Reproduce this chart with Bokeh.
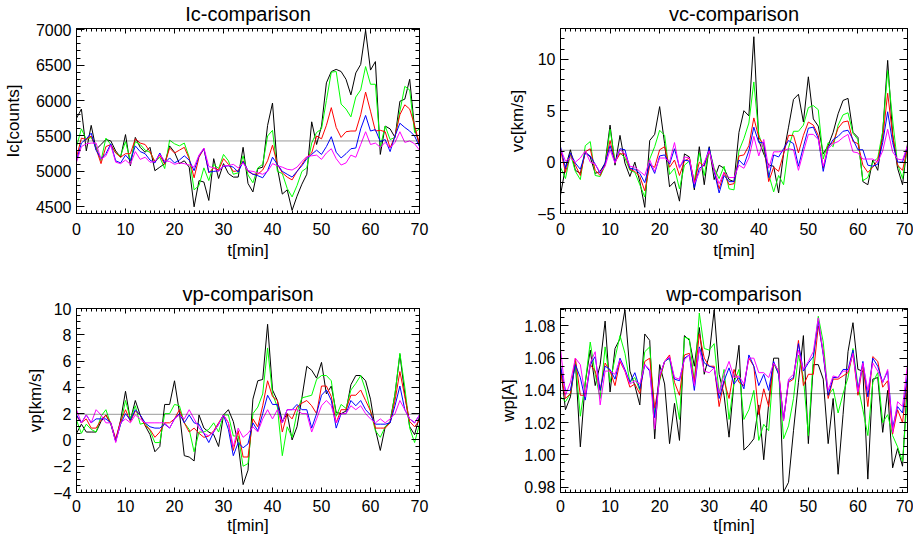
from bokeh.plotting import figure
from bokeh.layouts import gridplot
from bokeh.models import (LinearAxis, SingleIntervalTicker, Span, Range1d,
                          NumeralTickFormatter, CustomLabelingPolicy)
from bokeh.embed import file_html
from bokeh.resources import INLINE

t_min = list(range(0, 71))

# ---------------- Ic [counts] ----------------
ic_black = [5750, 5880, 5290, 5650, 5310, 5380, 5450, 5430, 5290, 5200,
            5520, 5080, 5480, 5340, 5270, 5340, 5010, 5060, 5110, 5360,
            5270, 5110, 5150, 5060, 4500, 4870, 4850, 4590, 5180, 4900,
            5110, 4970, 4920, 4920, 5340, 4830, 4710, 5040, 5060, 5650,
            5965, 5050, 4680, 4740, 4450, 4650, 4820, 4960, 5700, 5380,
            5640, 6250, 6410, 6440, 6410, 6300, 6080, 6390, 6510, 6990,
            6430, 6550, 5240, 5640, 5600, 5480, 5990, 6020, 6300, 5600, 5380]
ic_green = [5350, 5600, 5450, 5480, 5350, 5150, 5470, 5380, 5260, 5220,
            5420, 5150, 5420, 5380, 5300, 5270, 5140, 5200, 5040, 5440,
            5390, 5360, 5400, 5200, 4740, 4800, 5050, 4870, 5100, 5040,
            5240, 5150, 4960, 4980, 5220, 4950, 4840, 5050, 5100, 5500,
            5580, 5000, 4970, 4760, 4640, 4800, 5000, 5050, 5400, 5550,
            5600, 6000, 6400, 6410, 5950, 5880, 5770, 6050, 6150, 6480,
            6230, 6230, 5350, 5640, 5450, 5480, 5850, 6200, 6150, 5550, 5600]
ic_red = [5200, 5470, 5450, 5500, 5320, 5110, 5350, 5380, 5260, 5200,
          5250, 5250, 5460, 5400, 5380, 5280, 5130, 5230, 5100, 5330,
          5260, 5300, 5340, 5180, 4910, 5200, 5320, 4980, 5050, 5020,
          5180, 5100, 5000, 5010, 5150, 5000, 4960, 4960, 5020, 5150,
          5370, 5100, 4980, 4920, 4880, 5000, 5100, 5200, 5260, 5500,
          5460, 5650, 5900, 5620, 5480, 5560, 5570, 5570, 5800, 6120,
          5850, 5570, 5580, 5560, 5330, 5500, 5800, 5940, 5880, 5650, 5380]
ic_blue = [5150, 5400, 5460, 5540, 5300, 5180, 5250, 5390, 5150, 5120,
           5230, 5150, 5360, 5280, 5250, 5160, 5120, 5260, 5120, 5190,
           5120, 5160, 5220, 5160, 5010, 5220, 5320, 4990, 5000, 5010,
           5070, 5080, 5060, 4990, 5140, 5010, 4960, 4940, 4910, 5010,
           5200, 5100, 5000, 4960, 4920, 5000, 5080, 5180, 5240, 5300,
           5240, 5350, 5490, 5270, 5190, 5250, 5320, 5330, 5600, 5790,
           5570, 5590, 5420, 5450, 5280, 5500, 5680, 5620, 5570, 5500, 5350]
ic_magenta = [5130, 5350, 5390, 5400, 5400, 5170, 5220, 5370, 5130, 5110,
              5160, 5100, 5280, 5170, 5200, 5130, 5140, 5240, 5150, 5140,
              5100, 5120, 5110, 5090, 5060, 5230, 5330, 5070, 5050, 5000,
              5080, 5080, 5100, 5050, 5120, 5010, 5000, 4980, 4960, 5000,
              5110, 5080, 5060, 5030, 5020, 5060, 5140, 5210, 5220, 5230,
              5170, 5260, 5320, 5180, 5090, 5120, 5230, 5200, 5380, 5560,
              5380, 5400, 5340, 5410, 5330, 5410, 5560, 5410, 5430, 5390, 5300]
ic_ref = 5430

# ---------------- vc [km/s] ----------------
vc_black = [-3.2, -0.5, 1.2, -0.8, -1.1, 1.0, 0.5, -1.1, -0.9, -0.1,
            3.6, -0.3, 2.6, -0.1, -1.4, 0.0, -1.9, -4.4, 2.1, 2.7,
            5.4, 1.8, -2.4, -1.9, -3.8, 0.8, 0.5, -2.7, 1.5, -2.2,
            1.5, -1.7, -0.3, -0.6, -1.7, -1.9, 2.9, 5.0, 4.5, 12.2,
            2.1, 0.8, -0.3, -0.4, -3.0, 0.8, 3.4, 6.1, 6.6, 3.9,
            8.3, 4.2, 3.5, 0.8, 1.6, 2.9, 4.7, 6.0, 6.2, 2.9,
            2.4, -1.9, -2.2, 0.2, -0.8, 2.9, 9.9, 2.7, -0.6, -2.2, 1.8]
vc_green = [-0.5, -1.6, 0.8, -0.9, -1.7, 1.6, 2.0, -1.3, -1.4, -0.3,
            3.2, 0.1, 0.9, 0.4, -0.8, -1.0, -2.2, -3.4, 0.3, 1.5,
            3.1, 2.6, -1.2, -0.6, -2.6, -0.3, 0.1, -1.8, 0.9, -1.3,
            1.3, -0.6, -1.6, -0.4, -2.6, -2.7, 1.1, 2.3, 3.8, 7.8,
            2.7, 1.2, -1.2, -2.9, -1.3, -2.2, 1.4, 3.0, 3.0, 3.6,
            5.3, 5.5, 5.1, 0.3, 1.9, 1.5, 3.6, 4.6, 4.8, 2.8,
            2.2, -1.8, -1.5, 0.0, 0.4, 3.0, 8.9, 4.1, -0.2, -1.6, 1.6]
vc_red = [1.2, -1.0, 0.8, -0.3, -1.3, 1.0, 1.3, -0.8, -1.3, -0.2,
          2.1, 0.0, 0.8, 0.8, -0.7, -0.9, -1.4, -2.8, -0.3, -0.5,
          1.2, 1.5, -0.5, 0.2, -1.3, 0.1, 0.4, -2.0, 0.0, -0.4,
          1.2, -0.8, -2.6, -1.0, -2.2, -2.1, 0.6, 0.7, 1.6, 4.3,
          2.4, 1.7, -1.9, -0.5, -0.9, 0.8, 2.6, 2.6, 0.9, 2.6,
          3.9, 3.6, 2.6, -0.6, 1.6, 1.9, 3.3, 3.9, 4.0, 2.0,
          1.8, -0.3, -1.0, -0.5, 0.2, 2.3, 6.7, 2.6, -0.3, -0.8, 1.4]
vc_blue = [1.5, -0.6, 0.9, -0.1, -0.7, 0.9, 0.6, -0.2, -1.1, -0.1,
           1.6, 0.0, 1.3, 1.2, -0.6, -0.7, -1.1, -2.0, -0.1, -1.1,
           0.6, 0.7, -0.2, 1.3, -0.5, 0.2, 0.1, -2.5, -0.6, -0.3,
           1.4, -0.9, -3.0, -1.3, -1.9, -1.9, 0.2, -0.3, 1.1, 3.4,
           1.9, 1.9, -1.5, 0.7, 0.5, 1.3, 2.1, 1.8, -0.4, 1.5,
           3.3, 3.4, 2.3, -0.9, 1.4, 2.2, 2.5, 3.0, 3.1, 2.2,
           1.2, 1.2, -0.3, -0.4, -0.2, 1.9, 4.9, 1.9, 0.0, 0.0, 1.5]
vc_magenta = [1.3, 0.1, 0.4, 0.0, 0.4, 1.1, 0.0, -0.2, -1.0, -0.4,
              1.2, -0.1, 1.2, 0.8, -0.4, -0.5, -0.9, -1.3, 0.2, -0.9,
              0.4, 0.4, 0.0, 1.9, -0.6, 0.5, 0.4, -2.1, -1.0, 0.0,
              1.1, -0.8, -2.1, -1.0, -1.5, -1.5, -0.3, -0.6, 0.4, 2.5,
              0.6, 2.2, -0.6, 1.0, 1.0, 1.1, 1.3, 1.2, -0.8, 1.0,
              2.7, 2.7, 2.2, -0.4, 1.3, 1.8, 2.0, 2.4, 2.7, 1.0,
              0.9, 0.3, 0.3, 0.3, 0.0, 1.1, 3.2, 1.0, 0.3, 0.2, 1.6]
vc_ref = 1.15

# ---------------- vp [km/s] ----------------
vp_black = [0.5, 1.2, 0.6, 0.6, 0.6, 1.4, 1.9, 1.2, -0.1, 1.5,
            3.7, 1.5, 3.0, 1.9, 1.1, 0.4, -0.9, -0.5, 2.7, 2.7,
            4.5, 2.1, -1.2, -1.3, -1.6, 1.9, 0.9, 0.6, 0.4, -0.5,
            1.9, 2.3, 1.4, -0.3, -3.4, -2.3, 3.1, 4.5, 4.6, 8.8,
            3.8, 3.0, 1.4, 2.0, 0.0, 1.0, 3.2, 5.6, 5.3, 4.7,
            5.9, 3.5, 4.1, 2.1, 2.0, 2.2, 4.2, 4.9, 4.9, 4.5,
            3.1, 0.8, -0.8, 1.0, 1.4, 3.5, 6.5, 3.5, 1.0, 0.4, 1.8]
vp_green = [1.5, 0.5, 1.2, 0.8, 0.6, 1.8, 2.3, 1.2, 0.0, 1.2,
            3.0, 1.6, 2.6, 1.2, 1.3, 0.7, -0.2, -0.2, 2.0, 2.0,
            2.7, 2.6, 1.3, 0.8, -0.9, 0.6, 0.6, 0.8, 1.3, 0.6,
            1.9, 1.9, 0.3, 0.3, -2.0, -1.8, 2.0, 2.5, 3.5, 7.0,
            3.5, 2.5, -1.2, 1.0, 0.2, 2.1, 3.2, 3.3, 3.4, 4.6,
            4.9, 4.9, 4.5, 1.8, 2.7, 2.4, 3.8, 4.3, 4.9, 3.8,
            2.2, 0.7, 0.2, 1.0, 1.3, 3.5, 6.6, 4.0, 0.9, -0.2, 1.2]
vp_red = [1.8, 1.3, 1.6, 0.9, 0.9, 1.5, 1.9, 1.3, 0.1, 1.4,
          2.3, 1.4, 2.2, 1.9, 1.1, 0.8, 0.2, 0.6, 1.3, 1.3,
          1.6, 2.3, 1.3, 0.6, 0.9, 0.5, 0.2, 0.3, 0.7, 1.3,
          1.9, 1.3, -0.8, 0.7, -1.3, -1.3, 1.6, 1.0, 2.6, 4.5,
          3.3, 3.0, 0.6, 2.0, 1.6, 2.5, 2.8, 3.0, 2.6, 2.0,
          4.1, 4.1, 3.3, 1.3, 2.3, 2.3, 3.4, 3.4, 3.8, 3.0,
          2.2, 0.9, 0.9, 0.9, 1.3, 3.0, 5.2, 3.3, 1.4, 1.0, 1.5]
vp_blue = [1.9, 1.3, 1.9, 1.3, 1.6, 1.6, 1.6, 1.3, -0.1, 1.2,
           2.0, 1.5, 2.3, 1.9, 1.3, 1.0, 0.9, 0.9, 1.2, 0.9,
           1.6, 2.0, 1.3, 1.9, 1.3, 1.2, 0.5, -0.2, 0.6, 1.2,
           1.9, 0.8, -1.2, -0.2, -0.6, -0.3, 1.3, 0.7, 2.0, 3.4,
           2.7, 2.7, 1.3, 2.3, 2.3, 2.7, 2.3, 2.3, 0.9, 2.0,
           3.4, 3.8, 3.0, 0.9, 2.0, 2.0, 3.0, 2.6, 3.0, 2.3,
           1.9, 1.2, 1.2, 1.2, 1.3, 2.6, 4.1, 2.3, 1.6, 1.3, 1.9]
vp_magenta = [2.3, 1.3, 1.9, 1.3, 2.3, 1.9, 1.3, 1.3, -0.2, 1.3,
              1.6, 1.3, 1.9, 1.6, 1.3, 1.3, 1.3, 1.3, 1.3, 0.9,
              1.6, 1.9, 1.6, 2.3, 1.6, 0.9, 0.5, 0.3, 0.6, 1.2,
              1.9, 1.3, -0.5, 0.9, 0.2, 0.5, 1.0, 0.6, 1.6, 2.3,
              1.6, 2.3, 1.3, 2.3, 2.3, 2.3, 2.0, 2.0, 0.6, 1.6,
              2.6, 3.0, 2.6, 1.3, 2.0, 2.0, 2.6, 2.3, 2.6, 2.0,
              1.6, 1.3, 1.6, 1.3, 1.6, 2.0, 3.0, 2.3, 1.6, 1.3, 1.9]
vp_ref = 1.95

# ---------------- wp [A] ----------------
wp_black = [1.055, 1.028, 1.036, 1.058, 1.005, 1.045, 1.065, 1.043, 1.056, 1.083,
            1.039, 1.066, 1.072, 1.090, 1.052, 1.043, 1.031, 1.075, 1.071, 1.010,
            1.056, 1.044, 1.007, 1.032, 1.009, 1.074, 1.071, 1.055, 1.079, 1.050,
            1.062, 1.090, 1.050, 1.037, 1.011, 1.045, 1.068, 1.003, 1.006, 1.010,
            1.031, 0.997, 1.032, 1.060, 1.060, 0.977, 0.983, 1.015, 1.045, 1.074,
            1.007, 1.056, 1.056, 1.047, 1.007, 1.035, 0.988, 1.025, 1.064, 1.082,
            1.053, 1.052, 0.985, 1.047, 1.048, 1.014, 1.040, 0.992, 1.004, 0.993, 1.046]
wp_green = [1.036, 1.033, 1.038, 1.058, 1.024, 1.045, 1.070, 1.050, 1.035, 1.067,
            1.045, 1.060, 1.074, 1.063, 1.045, 1.048, 1.040, 1.064, 1.067, 1.025,
            1.046, 1.058, 1.060, 1.040, 1.022, 1.073, 1.072, 1.045, 1.088, 1.066,
            1.065, 1.069, 1.038, 1.053, 1.022, 1.045, 1.053, 1.022, 1.028, 1.040,
            1.009, 1.019, 1.015, 1.057, 1.050, 1.010, 1.018, 1.035, 1.062, 1.048,
            1.012, 1.060, 1.086, 1.070, 1.037, 1.041, 1.026, 1.038, 1.048, 1.066,
            1.043, 1.028, 1.012, 1.045, 1.051, 1.020, 1.025, 1.012, 1.005, 0.996, 1.038]
wp_red = [1.052, 1.035, 1.038, 1.060, 1.037, 1.037, 1.056, 1.052, 1.040, 1.057,
          1.052, 1.043, 1.058, 1.052, 1.042, 1.044, 1.038, 1.058, 1.060, 1.029,
          1.047, 1.058, 1.062, 1.045, 1.037, 1.062, 1.063, 1.045, 1.075, 1.060,
          1.055, 1.055, 1.030, 1.046, 1.035, 1.053, 1.045, 1.043, 1.060, 1.055,
          1.025, 1.041, 1.030, 1.057, 1.052, 1.022, 1.045, 1.047, 1.071, 1.043,
          1.050, 1.050, 1.080, 1.064, 1.035, 1.047, 1.047, 1.049, 1.051, 1.063,
          1.037, 1.056, 1.030, 1.061, 1.058, 1.042, 1.046, 1.013, 1.028, 1.020, 1.048]
wp_blue = [1.055, 1.040, 1.040, 1.056, 1.048, 1.034, 1.056, 1.061, 1.040, 1.055,
           1.053, 1.047, 1.060, 1.053, 1.045, 1.051, 1.041, 1.056, 1.052, 1.023,
           1.049, 1.058, 1.060, 1.047, 1.046, 1.060, 1.062, 1.040, 1.067, 1.057,
           1.055, 1.054, 1.035, 1.046, 1.054, 1.044, 1.048, 1.041, 1.062, 1.055,
           1.043, 1.050, 1.040, 1.058, 1.050, 1.022, 1.046, 1.048, 1.069, 1.052,
           1.057, 1.061, 1.083, 1.062, 1.037, 1.048, 1.048, 1.053, 1.053, 1.065,
           1.040, 1.058, 1.036, 1.060, 1.055, 1.045, 1.052, 1.017, 1.030, 1.026, 1.050]
wp_magenta = [1.066, 1.037, 1.045, 1.060, 1.056, 1.036, 1.057, 1.064, 1.031, 1.052,
              1.052, 1.050, 1.059, 1.052, 1.044, 1.046, 1.044, 1.056, 1.053, 1.016,
              1.049, 1.058, 1.061, 1.048, 1.047, 1.059, 1.062, 1.043, 1.066, 1.052,
              1.051, 1.054, 1.038, 1.050, 1.058, 1.048, 1.049, 1.044, 1.060, 1.060,
              1.051, 1.051, 1.048, 1.057, 1.052, 1.021, 1.047, 1.050, 1.065, 1.053,
              1.058, 1.064, 1.085, 1.063, 1.040, 1.049, 1.048, 1.052, 1.052, 1.063,
              1.039, 1.057, 1.040, 1.057, 1.052, 1.045, 1.053, 1.014, 1.033, 1.030, 1.056]
wp_ref = 1.038

colors = ["black", "#00ff00", "#ff0000", "#0000ff", "#ff00ff"]
FONT = "Liberation Sans"

HIDE_JS = """
try {
  const on = [...indices.ones()];
  for (const i of on) { indices.unset(i); }
} catch (e) {}
return indices;
"""


def style_axis(ax, tick_in, minor_in, hide_labels=False):
    ax.axis_line_color = "black"
    ax.major_tick_line_color = "black"
    ax.minor_tick_line_color = "black"
    ax.major_tick_in = tick_in
    ax.major_tick_out = 0
    ax.minor_tick_in = minor_in
    ax.minor_tick_out = 0
    ax.major_label_text_font = FONT
    ax.major_label_text_color = "black"
    ax.major_label_text_font_size = "16px"
    ax.axis_label_text_font = FONT
    ax.axis_label_text_font_size = "17px"
    ax.axis_label_text_font_style = "normal"
    ax.axis_label_text_color = "black"
    if hide_labels:
        ax.major_label_policy = CustomLabelingPolicy(code=HIDE_JS)
        ax.major_label_text_font_size = "1px"
        ax.major_label_standoff = 0


def panel(title, ylabel, series, ref, yr, yint, yminor, yfmt,
          width, height, bl, br, bt, bb, ylab_standoff, xl_so, xa_so):
    p = figure(width=width, height=height, output_backend="svg",
               toolbar_location=None, x_range=Range1d(0, 70),
               y_range=Range1d(*yr), min_border_left=bl, min_border_right=br,
               min_border_top=bt, min_border_bottom=bb)
    p.title.text = title
    p.title.text_font = FONT
    p.title.text_font_size = "20px"
    p.title.text_font_style = "normal"
    p.title.text_color = "black"
    p.title.align = "center"
    p.title.standoff = 0
    p.xgrid.visible = False
    p.ygrid.visible = False
    p.outline_line_color = "black"
    p.outline_line_alpha = 1.0
    p.background_fill_color = "white"
    p.border_fill_color = "white"

    p.xaxis.ticker = SingleIntervalTicker(interval=10, num_minor_ticks=10)
    p.yaxis.ticker = SingleIntervalTicker(interval=yint, num_minor_ticks=yminor)
    p.xaxis.axis_label = "t[min]"
    p.yaxis.axis_label = ylabel
    style_axis(p.xaxis[0], 5, 3)
    style_axis(p.yaxis[0], 8, 4)
    p.xaxis.major_label_standoff = xl_so
    p.xaxis.axis_label_standoff = xa_so
    p.yaxis.major_label_standoff = 5
    p.yaxis.axis_label_standoff = ylab_standoff
    if yfmt:
        p.yaxis.formatter = NumeralTickFormatter(format=yfmt)

    top = LinearAxis(ticker=SingleIntervalTicker(interval=10, num_minor_ticks=10))
    style_axis(top, 5, 3, hide_labels=True)
    p.add_layout(top, "above")
    right = LinearAxis(ticker=SingleIntervalTicker(interval=yint, num_minor_ticks=yminor))
    style_axis(right, 8, 4, hide_labels=True)
    p.add_layout(right, "right")

    p.add_layout(Span(location=ref, dimension="width", line_color="black",
                      line_width=0.8, line_dash="1 1"))
    for ys, c in zip(series, colors):
        p.line(t_min, ys, line_color=c, line_width=1)
    return p


p1 = panel("Ic-comparison", "Ic[counts]",
           [ic_black, ic_green, ic_red, ic_blue, ic_magenta], ic_ref,
           (4406, 7017), 500, 5, None, 460, 280, 73, 41, 27, 67, 10, 9, 3)
p2 = panel("vc-comparison", "vc[km/s]",
           [vc_black, vc_green, vc_red, vc_blue, vc_magenta], vc_ref,
           (-5.0, 13.0), 5, 5, None, 453, 280, 100, 6, 27, 67, 7, 9, 3)
p3 = panel("vp-comparison", "vp[km/s]",
           [vp_black, vp_green, vp_red, vp_blue, vp_magenta], vp_ref,
           (-4.0, 10.0), 2, 4, None, 460, 257, 73, 41, 28, 44, 5, 7, 1)
p4 = panel("wp-comparison", "wp[A]",
           [wp_black, wp_green, wp_red, wp_blue, wp_magenta], wp_ref,
           (0.9767, 1.0908), 0.02, 4, "0.00", 453, 257, 100, 6, 28, 44, 3, 7, 1)

grid = gridplot([[p1, p2], [p3, p4]], toolbar_location=None)

open("out.html", "w").write(file_html(grid, INLINE))
